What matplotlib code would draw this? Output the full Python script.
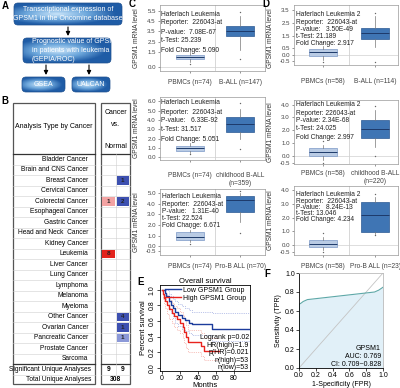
import numpy as np
import matplotlib.pyplot as plt
from matplotlib.patches import FancyBboxPatch, Rectangle
from matplotlib.colors import LinearSegmentedColormap

plt.rcParams['font.family'] = ['Liberation Sans', 'DejaVu Sans']

W, H = 400, 388

# ---------------- data ----------------
# panel A (flow chart)
flow_texts = ['Transcriptional expression of\nGPSM1 in the Oncomine database',
              'Prognostic value of GPSM1\nin patients with leukemia\n(GEPIA/ROC)',
              'GSEA', 'UALCAN']

# panel B (Oncomine summary)
cancers = ['Bladder Cancer', 'Brain and CNS Cancer', 'Breast Cancer', 'Cervical Cancer',
           'Colorectal Cancer', 'Esophageal Cancer', 'Gastric Cancer', 'Head and Neck  Cancer',
           'Kidney Cancer', 'Leukemia', 'Liver Cancer', 'Lung Cancer', 'Lymphoma', 'Melanoma',
           'Myeloma', 'Other Cancer', 'Ovarian Cancer', 'Pancreatic Cancer', 'Prostate Cancer',
           'Sarcoma']
up_count = [0, 0, 0, 0, 1, 0, 0, 0, 0, 8, 0, 0, 0, 0, 0, 0, 0, 0, 0, 0]
down_count = [0, 0, 1, 0, 2, 0, 0, 0, 0, 0, 0, 0, 0, 0, 0, 4, 1, 1, 0, 0]
up_rank = [0, 0, 0, 0, 10, 0, 0, 0, 0, 1, 0, 0, 0, 0, 0, 0, 0, 0, 0, 0]
down_rank = [0, 0, 1, 0, 1, 0, 0, 0, 0, 0, 0, 0, 0, 0, 0, 1, 1, 10, 0, 0]
sig_up, sig_down, total_analyses = 9, 9, 308

# panels C/D boxplots: [min, whisker lo, q1, median, q3, whisker hi, max]
c1_stats = [[0.3, 0.5, 0.75, 0.95, 1.2, 1.5, 1.8], [0.8, 1.7, 3.0, 3.5, 4.0, 5.0, 5.4]]
c2_stats = [[0.3, 0.5, 0.7, 0.95, 1.2, 1.5, 1.8], [0.9, 2.0, 2.7, 3.6, 4.3, 5.2, 5.8]]
c3_stats = [[0.2, 0.4, 0.6, 0.9, 1.3, 1.5, 1.8], [1.2, 2.3, 3.2, 4.35, 4.7, 5.0, 5.2]]
d1_stats = [[-0.6, -0.4, -0.1, 0.2, 0.45, 0.7, 1.0], [-0.6, 0.6, 1.2, 1.7, 2.1, 3.0, 3.3]]
d2_stats = [[-0.5, -0.3, 0.05, 0.3, 0.65, 0.9, 1.2], [0.0, 0.7, 1.4, 2.1, 2.8, 3.6, 3.9]]
d3_stats = [[-0.5, -0.35, -0.15, 0.1, 0.35, 0.6, 0.9], [0.7, 0.8, 0.95, 2.2, 3.1, 3.5, 3.7]]

c1_names = ['PBMCs (n=74)', 'B-ALL (n=147)']
c2_names = ['PBMCs (n=74)', 'childhood B-ALL\n(n=359)']
c3_names = ['PBMCs (n=74)', 'Pro-B ALL (n=70)']
d1_names = ['PBMCs (n=58)', 'B-ALL (n=114)']
d2_names = ['PBMCs (n=58)', 'childhood B-ALL\n(n=220)']
d3_names = ['PBMCs (n=58)', 'Pro-B ALL (n=23)']

c1_text = ['Haferlach Leukemia', 'Reporter:  226043-at', 'P-value:  7.08E-67', 't-Test: 25.239', 'Fold Change: 5.090']
c2_text = ['Haferlach Leukemia', 'Reporter:  226043-at', 'P-value:   6.33E-92', 't-Test: 31.517', 'Fold Change: 5.051']
c3_text = ['Haferlach Leukemia', 'Reporter:  226043-at', 'P-value:   1.31E-40', 't-Test: 22.524', 'Fold Change: 6.671']
d1_text = ['Haferlach Leukemia 2', 'Reporter:  226043-at', 'P-value:   3.50E-49', 't-Test: 21.189', 'Fold Change: 2.917']
d2_text = ['Haferlach Leukemia 2', 'Reporter: 226043-at', 'P-value: 2.34E-68', 't-Test: 24.025', 'Fold Change: 2.997']
d3_text = ['Haferlach Leukemia 2', 'Reporter:  226043-at', 'P-value:   8.24E-13', 't-Test: 13.046', 'Fold Change: 4.234']

c1_ticks = [0.0, 1.5, 2.5, 3.5, 4.5, 5.5]
c2_ticks = [0.0, 1.0, 2.0, 3.0, 4.0, 5.0, 6.0]
c3_ticks = [-0.5, 0.0, 1.0, 2.0, 3.0, 4.0, 5.0]
d1_ticks = [-0.5, 0.0, 0.5, 1.5, 2.5, 3.5]
d2_ticks = [-0.5, 0.0, 1.0, 2.0, 3.0, 4.0]
d3_ticks = [-0.5, 0.0, 1.0, 2.0, 3.0, 4.0]

# panel E (Kaplan-Meier)
low_t = [0, 3, 5, 8, 10, 12, 15, 18, 22, 26, 30, 34, 56, 98]
low_s = [1.0, 0.96, 0.92, 0.86, 0.81, 0.76, 0.71, 0.68, 0.64, 0.61, 0.58, 0.56, 0.50, 0.50]
low_up = [1.0, 1.0, 0.99, 0.95, 0.92, 0.88, 0.85, 0.82, 0.79, 0.76, 0.74, 0.72, 0.70, 0.70]
low_lo = [1.0, 0.90, 0.84, 0.76, 0.70, 0.64, 0.58, 0.54, 0.50, 0.47, 0.44, 0.42, 0.35, 0.35]
high_t = [0, 1, 2, 4, 6, 8, 11, 14, 17, 20, 23, 25, 27, 29, 44, 47, 64]
high_s = [1.0, 0.94, 0.90, 0.86, 0.80, 0.75, 0.70, 0.66, 0.62, 0.58, 0.52, 0.46, 0.39, 0.33, 0.28, 0.22, 0.22]
high_up = [1.0, 1.0, 0.98, 0.95, 0.91, 0.87, 0.83, 0.79, 0.76, 0.72, 0.67, 0.62, 0.55, 0.49, 0.44, 0.38, 0.38]
high_lo = [1.0, 0.88, 0.82, 0.76, 0.69, 0.63, 0.57, 0.52, 0.48, 0.44, 0.38, 0.32, 0.26, 0.20, 0.15, 0.10, 0.10]
km_stats = ['Logrank p=0.02', 'HR(high)=1.9', 'p(HR)=0.021', 'n(high)=53', 'n(low)=53']

# panel F (ROC)
fpr = [0, 0, 0.02, 0.05, 0.1, 0.2, 0.3, 0.4, 0.5, 0.6, 0.7, 0.8, 0.9, 0.95, 1.0]
tpr = [0, 0.67, 0.68, 0.70, 0.72, 0.73, 0.74, 0.75, 0.76, 0.77, 0.78, 0.79, 0.80, 0.82, 0.85]
roc_text = ['GPSM1', 'AUC: 0.769', 'CI: 0.709~0.828']

# ---------------- helpers ----------------
fig = plt.figure(figsize=(W / 100, H / 100), dpi=100)


def px_axes(x0, y0, x1, y1):
    return fig.add_axes([x0 / W, 1 - y1 / H, (x1 - x0) / W, (y1 - y0) / H])


def ftext(x, y, s, **kw):
    return fig.text(x / W, 1 - y / H, s, **kw)


ov = fig.add_axes([0, 0, 1, 1])
ov.axis('off')

# ---------------- panel A ----------------
box_cmap = LinearSegmentedColormap.from_list('bx', ['#c3e0f7', '#6ea8dc', '#1f5ca6'])


def flow_box(x0, y0, x1, y1, text, ha='center', tx=None):
    patch = FancyBboxPatch((x0, y0), x1 - x0, y1 - y0,
                           boxstyle='round,pad=0,rounding_size=4',
                           fc='none', ec='#1d4f8e', lw=0.5, zorder=2)
    ov.add_patch(patch)
    X, Y = np.meshgrid(np.linspace(-1, 1, 60), np.linspace(-1, 1, 30))
    g = np.clip(np.sqrt(((X + 0.2) / 1.1) ** 2 + (Y / 1.0) ** 2), 0, 1)
    img = ov.imshow(g, cmap=box_cmap, extent=(x0, x1, y1, y0), aspect='auto', zorder=1)
    img.set_clip_path(patch)
    if tx is None:
        tx = (x0 + x1) / 2
    ov.text(tx, (y0 + y1) / 2, text, ha=ha, va='center', fontsize=5, color='white',
            linespacing=1.45, zorder=3)


flow_box(14, 3, 122, 25, flow_texts[0])
flow_box(23, 38, 111, 63, flow_texts[1], ha='left', tx=32)
flow_box(22, 77, 65, 92, flow_texts[2])
flow_box(72, 77, 110, 92, flow_texts[3])
arw = dict(arrowstyle='-|>', color='black', lw=0.8, mutation_scale=6, shrinkA=0, shrinkB=0)
ov.annotate('', xy=(68, 36), xytext=(68, 27), arrowprops=arw)
ov.annotate('', xy=(46, 75), xytext=(46, 65), arrowprops=arw)
ov.annotate('', xy=(89, 75), xytext=(89, 65), arrowprops=arw)

# ---------------- panel B ----------------
row_top, row_h = 154, 10.5
n = len(cancers)
row_end = row_top + n * row_h
for (x0, x1) in [(13, 95), (101, 130)]:
    ov.add_patch(Rectangle((x0, 103), x1 - x0, 384 - 103, fc='white', ec='#555555', lw=0.9, zorder=2))
    ov.plot([x0, x1], [row_top, row_top], color='#333333', lw=0.9, zorder=3)
    ov.plot([x0, x1], [row_end, row_end], color='#333333', lw=0.9, zorder=3)
    for i in range(1, n):
        ov.plot([x0, x1], [row_top + i * row_h] * 2, color='#cfcfcf', lw=0.4, zorder=3)
    ov.plot([x0, x1], [row_end + row_h] * 2, color='#cfcfcf', lw=0.4, zorder=3)
ov.plot([115.5, 115.5], [row_top, row_end + row_h], color='#cfcfcf', lw=0.4, zorder=3)

ov.text(54, 127, 'Analysis Type by Cancer', ha='center', va='center', fontsize=5, zorder=4)
ov.text(115.5, 112, 'Cancer', ha='center', va='center', fontsize=5, zorder=4)
ov.text(115.5, 125, 'vs.', ha='center', va='center', fontsize=5, zorder=4)
ov.text(115.5, 146, 'Normal', ha='center', va='center', fontsize=5, zorder=4)


def rank_color(rank, strong, light):
    return strong if rank <= 1 else light


for i, name in enumerate(cancers):
    yc = row_top + (i + 0.5) * row_h
    ov.text(88, yc, name, ha='right', va='center', fontsize=4.8, zorder=4)
    if up_count[i]:
        ov.add_patch(Rectangle((102, row_top + i * row_h + 1), 12.5, row_h - 2,
                               fc=rank_color(up_rank[i], '#e3231c', '#f3a3a3'), ec='none', zorder=4))
        ov.text(108.2, yc, str(up_count[i]), ha='center', va='center', fontsize=4.5,
                fontweight='bold', color='#222222', zorder=5)
    if down_count[i]:
        ov.add_patch(Rectangle((116.5, row_top + i * row_h + 1), 12.5, row_h - 2,
                               fc=rank_color(down_rank[i], '#3d50b0', '#8c99d8'), ec='none', zorder=4))
        ov.text(122.7, yc, str(down_count[i]), ha='center', va='center', fontsize=4.5,
                fontweight='bold', color='#222222', zorder=5)

ov.text(91, row_end + 0.5 * row_h, 'Significant Unique Analyses', ha='right', va='center', fontsize=4.8, zorder=4)
ov.text(91, row_end + 1.5 * row_h, 'Total Unique Analyses', ha='right', va='center', fontsize=4.8, zorder=4)
ov.text(108.2, row_end + 0.5 * row_h, str(sig_up), ha='center', va='center', fontsize=4.8, fontweight='bold', zorder=4)
ov.text(122.7, row_end + 0.5 * row_h, str(sig_down), ha='center', va='center', fontsize=4.8, fontweight='bold', zorder=4)
ov.text(115.5, row_end + 1.5 * row_h, str(total_analyses), ha='center', va='center', fontsize=4.8, fontweight='bold', zorder=4)

ov.set_xlim(0, W)
ov.set_ylim(H, 0)


# ---------------- panels C & D ----------------
def box_panel(rect, stats, names, ticks, ylim, xlim, lines, top, step, tx, lab_x, lab_pad, lab_y=None):
    ax = px_axes(*rect)
    bstats = []
    for s, lab in zip(stats, names):
        bstats.append(dict(whislo=s[1], q1=s[2], med=s[3], q3=s[4], whishi=s[5],
                           fliers=[s[0], s[6]], label=lab))
    bp = ax.bxp(bstats, positions=[0, 1], widths=0.55, patch_artist=True, showcaps=False,
                boxprops=dict(lw=0.5),
                medianprops=dict(color='#1d3a6a', lw=0.7),
                whiskerprops=dict(color='#777777', lw=0.5),
                flierprops=dict(marker='o', ms=1.0, mfc='#666666', mec='none'))
    for patch, fc, ec in zip(bp['boxes'], ['#b9cbe4', '#3f75b4'], ['#7b98c6', '#2c5a94']):
        patch.set_facecolor(fc)
        patch.set_edgecolor(ec)
    ax.axvline(0.5, color='#c8c8c8', lw=0.5, zorder=0)
    ax.axhline(0.0, color='#d0d0d0', lw=0.5, zorder=0)
    ax.set_xlim(*xlim)
    ax.set_ylim(*ylim)
    ax.set_yticks(ticks)
    ax.set_yticklabels([f'{t:.1f}' for t in ticks])
    ax.tick_params(axis='y', labelsize=4.4, length=1.5, width=0.4, pad=1.5, colors='#444444')
    ax.tick_params(axis='x', labelsize=4.8, length=1.5, width=0.4, pad=lab_pad, colors='#444444')
    for sp in ax.spines.values():
        sp.set_color('#999999')
        sp.set_linewidth(0.5)
    for k, line in enumerate(lines):
        ftext(tx, top + k * step, line, fontsize=4.8, va='center', ha='left', color='#222222')
    yc = (rect[1] + rect[3]) / 2 if lab_y is None else lab_y
    ftext(lab_x, yc, 'GPSM1 mRNA level', rotation=90, fontsize=4.8, ha='center', va='center', color='#333333')
    return ax


cx = (-0.6, 1.5)
dx = (-0.56, 1.44)
box_panel((160, 5, 265, 71), c1_stats, c1_names, c1_ticks, (-0.4, 6.1), cx, c1_text, 14, 9, 161, 137, 4)
box_panel((160, 97, 265, 160), c2_stats, c2_names, c2_ticks, (-0.3, 6.45), cx, c2_text, 103, 9, 161, 137, 7)
box_panel((160, 189, 265, 255), c3_stats, c3_names, c3_ticks, (-0.83, 5.37), cx, c3_text, 197, 7.2, 162, 137, 4)
box_panel((294, 5, 398, 65), d1_stats, d1_names, d1_ticks, (-0.8, 3.9), dx, d1_text, 15, 7.1, 296, 271, 8, lab_y=38)
box_panel((294, 100, 398, 164), d2_stats, d2_names, d2_ticks, (-0.6, 4.35), dx, d2_text, 105, 8, 296, 271, 3)
box_panel((294, 186, 398, 255), d3_stats, d3_names, d3_ticks, (-0.73, 4.3), dx, d3_text, 195, 6.2, 296, 271, 4)

# ---------------- panel E ----------------
axE = px_axes(160, 285, 250, 371)
axE.step(low_t, low_up, where='post', color='#7f8fd6', lw=0.5, ls=':')
axE.step(low_t, low_lo, where='post', color='#7f8fd6', lw=0.5, ls=':')
axE.step(high_t, high_up, where='post', color='#f08a80', lw=0.5, ls=':')
axE.step(high_t, high_lo, where='post', color='#f08a80', lw=0.5, ls=':')
axE.step(low_t, low_s, where='post', color='#1c3c9c', lw=1.0, label='Low GPSM1 Group')
axE.step(high_t, high_s, where='post', color='#e8231d', lw=1.0, label='High GPSM1 Group')
axE.set_xlim(-2, 98)
axE.set_ylim(-0.04, 1.06)
axE.set_xticks([0, 20, 40, 60, 80])
axE.set_yticks([0, 0.2, 0.4, 0.6, 0.8, 1.0])
axE.set_yticklabels(['0.0', '0.2', '0.4', '0.6', '0.8', '1.0'], rotation=90, va='center')
axE.tick_params(labelsize=5, length=2, width=0.5, pad=1)
for sp in axE.spines.values():
    sp.set_linewidth(0.6)
axE.set_title('Overall survival', fontsize=5.5, pad=1.5)
axE.set_xlabel('Months', fontsize=5.5, labelpad=0)
axE.set_ylabel('Percent survival', fontsize=5.5, labelpad=1)
axE.legend(loc='upper right', bbox_to_anchor=(1.0, 1.02), fontsize=5, frameon=False,
           handlelength=2.2, handletextpad=0.4, labelspacing=0.15, borderaxespad=0.1)
for k, s in enumerate(km_stats):
    ftext(249, 337.5 + k * 7.6, s, fontsize=5, ha='right', va='center')

# ---------------- panel F ----------------
axF = px_axes(299, 273, 383, 368)
axF.fill_between(fpr, tpr, color='#e1f0f8', lw=0)
axF.plot([0, 1], [0, 1], color='#c4c4c4', lw=0.6)
axF.plot(fpr, tpr, color='#5ea8a8', lw=0.8)
axF.set_xlim(0, 1)
axF.set_ylim(0, 1)
axF.set_xticks([0, 0.2, 0.4, 0.6, 0.8, 1.0])
axF.set_yticks([0, 0.2, 0.4, 0.6, 0.8, 1.0])
axF.set_xticklabels(['0.0', '0.2', '0.4', '0.6', '0.8', '1.0'])
axF.set_yticklabels(['0.0', '0.2', '0.4', '0.6', '0.8', '1.0'])
axF.tick_params(labelsize=5, length=2, width=0.5, pad=1)
for name, sp in axF.spines.items():
    sp.set_linewidth(0.6)
    if name in ('top', 'right'):
        sp.set_color('#bbbbbb')
axF.set_xlabel('1-Specificity (FPR)', fontsize=5, labelpad=1)
axF.set_ylabel('Sensitivity (TPR)', fontsize=5, labelpad=2)
for k, s in enumerate(roc_text):
    ftext(381, 348 + k * 8.5, s, fontsize=5, ha='right', va='center')

# ---------------- panel letters ----------------
for letter, (x, y) in zip('ABCDEF', [(5, 6), (5, 101), (132, 4), (266, 4), (141, 282), (267, 274)]):
    ftext(x, y, letter, fontsize=7, fontweight='bold', ha='center', va='center')

fig.savefig('out.png', dpi=100)
